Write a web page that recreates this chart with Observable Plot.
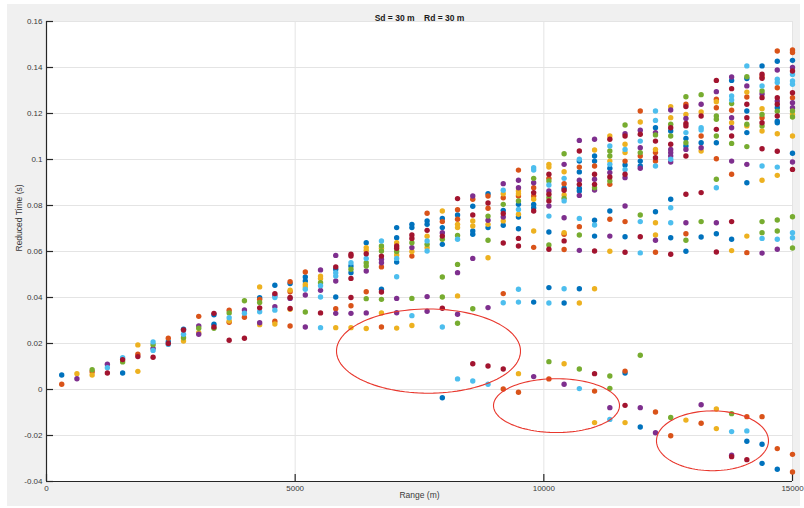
<!DOCTYPE html>
<html>
<head>
<meta charset="utf-8">
<script src="https://cdn.jsdelivr.net/npm/d3@7"></script>
<script src="https://cdn.jsdelivr.net/npm/@observablehq/plot@0.6"></script>
<style>
  html, body { margin: 0; padding: 0; background: #ffffff; }
  #panel { position: absolute; left: 7px; top: 4px; width: 793px; height: 502px; background: #f0f0f0; }
  #chart { position: absolute; left: 0; top: 0; }
</style>
</head>
<body>
<div id="panel"></div>
<div id="chart"></div>
<script>
// Reduced travel time of each arrival versus source–receiver range.
// Each row: [range (m), reduced times (s) ...] for one colour group.
const blue = [
  [306, .0063], [1531, .0072], [2449, .0208], [2755, .0262], [3367, .0325, .0284],
  [4286, .0399], [4592, .0453], [4898, .0461], [5204, .0489, .0472], [5816, .0523, .0402],
  [6122, .0537, .0508], [6429, .0638], [6735, .0436], [7041, .0704, .066, .0554],
  [7347, .0718, .0704], [7653, .0733, .0718], [7959, .0744, .0704, .0631, -.0036],
  [8265, .0759], [8571, .0797, .0689, .0675], [8878, .0851, .0704], [9184, .0779, .0714],
  [9490, .0805, .075, .0699], [9796, .0805, .079, .038], [10102, .0685, .0443],
  [10408, .0875, .0376], [10714, .0993, .0946, .0875, .0863, .0438],
  [11020, .1015, .0993, .0736, .0667], [11327, .0962, .0776], [11633, .0976, .0664, .0072],
  [11939, .0993, .0972, -.0163], [12245, .1138, .0773], [12551, .1124, .0827, .066],
  [12857, .1091, .1059, .0601], [13163, .1073, .0663], [13469, .1073, .0677],
  [13776, .1344, .0653], [14082, .1352, .1211, .1117, .0899, -.0225],
  [14388, .1407, -.0238, -.0321], [14694, .1427, .1225, .1167, .116, -.0347],
  [15000, .1431, .1027]
];
const orange = [
  [306, .0023], [918, .0077], [1837, .0153], [2449, .0223], [3061, .0318],
  [3673, .0345, .0292], [3980, .0314], [4286, .0392], [4592, .0297], [4898, .0469, .0425, .0276],
  [5204, .0511], [5816, .0351], [6122, .0364], [6429, .0425], [6735, .0533, .0272],
  [7347, .058], [7653, .0766], [7959, .073], [8265, .0782, .074], [8571, .0827],
  [8878, .0841, .0788], [9184, .0834, .0417, .0002], [9490, .0954, .0841, -.0012],
  [9796, .0877, .0841, .0618], [10102, .0918, .0046], [10408, .0895, .0675, .0609],
  [10714, .0967, .0708], [11020, .0972, -.0007], [11327, .0892, .074], [11633, .0993, .073, .008],
  [11939, .1211, .1015], [12245, .103, .0993, .0597, -.0098], [12551, -.0201],
  [12857, .124, .0677], [13163, .1102, -.0147], [13469, .1262, .1225, .1003],
  [13776, .1214, .0936], [14082, .1272, .0595, -.0118], [14388, .136, .1182, -.0118],
  [14694, .1472, .1312, -.0257], [15000, .1476, .1465, .1269, -.0282, -.0359]
];
const yellow = [
  [612, .0069], [918, .0063], [1837, .0194, .0079], [2755, .0211], [3061, .0247],
  [3673, .0298], [4286, .0446, .0282], [4592, .0285], [4898, .0432, .0349], [5204, .0457, .0446],
  [5510, .0493, .0483], [5816, .0269], [6122, .0269], [6429, .0617, .0605, .0265],
  [6735, .0614, .0333], [7041, .0638, .0585, .0267], [7347, .06, .0278], [7653, .0666, .0617],
  [7959, .0776], [8265, .0718, .0704, .0407], [8571, .0733, .0711], [8878, .0718, .0573],
  [9184, .0851, .0733], [9490, .0863, .0851, .0762, .0069], [9796, .0827, .0689],
  [10102, .0979, .0967], [10408, .0947, .0846, .0682, .0112], [10714, .0376],
  [11020, .1041, .0438, -.0144], [11327, .1102, .0993, .0601], [11633, .1066, .103, -.0144],
  [11939, .1163], [12245, .1044, .0725, .0672], [12551, .123, .1182], [12857, .1196, -.0133],
  [13163, .1207, .1037], [13469, .1251, -.0085, -.017], [13776, .116, .0604],
  [14082, .1293, .1146, .0667], [14388, .1221, .1124, .091], [14694, .1112, .0931],
  [15000, .1196, .1102]
];
const purple = [
  [612, .0047], [1224, .011], [2143, .0179], [3061, .0276, .024], [3980, .0346], [4286, .029],
  [4592, .0409, .036], [4898, .0396], [5204, .0411, .0272], [5510, .052, .0431],
  [5816, .0583, .0472, .0331], [6122, .0331], [6429, .0515, .0333], [6735, .0566, .0551],
  [7041, .0396, .0334], [7347, .0617], [7653, .0404, .034], [7959, .0682], [8265, .0508, .0327],
  [8571, .0841, .057], [8878, .0736, .0356], [9184, .0895, .075], [9490, .091, .0877],
  [9796, .0899, .0056], [10102, .0863, .0798], [10408, .0979, .0747, .0023],
  [10714, .1083, .091, .0844, .0605], [11020, .1088, .0914, .0867], [11327, .0943, .0667, -.0079],
  [11633, .1112, .0921, .0798], [11939, .1127, .1051, .0962, -.0079], [12245, .1117, .0649, -.0188],
  [12551, .1215, .1044, .103, .1015, .0989], [12857, .1178, .1044, .0725], [13163, .124, .1051, -.0066],
  [13469, .1295, .0725], [13776, .1359, .1182, .1138, .0993, -.0286], [14082, .132, .0979],
  [14388, .1285, .0593], [14694, .1389, .1254, .061], [15000, .14, .1247, .1225, .0989]
];
const green = [
  [918, .0086], [1531, .012], [2143, .0195], [2755, .0225], [3061, .0266], [3367, .0266],
  [3673, .0333], [3980, .0386], [4286, .0378], [5204, .0337], [5510, .0464], [6122, .0523],
  [6429, .0551, .0537, .0395], [6735, .0624, .0602, .0392], [7041, .06], [7347, .0638, .0396],
  [7653, .0631], [7959, .0653, .0489, .0402], [8265, .067, .0544, .0288], [8571, .0351],
  [8878, .0754, .0649], [9184, .0805], [9490, .082], [9796, .0918], [10102, .0907, .0834, .0628, .0121],
  [10408, .1025, .0831], [10714, .0672, .0089], [11020, .0877], [11327, .1037, .1015, .0907, .0059, .0005],
  [11633, .115], [11939, .103, .0759, .0149], [12245, .1107], [12551, .1153, .1102, -.0122],
  [12857, .1273, .1073, .0649], [13163, .1282, .073], [13469, .1189, .1175, .1102, .0914],
  [13776, .1243, .107, -.0105], [14082, .136, .1153, .1056], [14388, .1298, .1196, .1146, .073, .0682],
  [14694, .121, .0737, .0689], [15000, .1211, .1185, .0751, .0615]
];
const cyan = [
  [1224, .0095], [1531, .0138], [2143, .0207, .017], [2449, .0196], [2755, .024], [3673, .0312],
  [3980, .0332], [4286, .0338], [4592, .04, .0345], [5204, .0436], [5510, .0451, .0402, .0269],
  [5816, .0508, .0493], [6122, .0551], [6429, .057], [6735, .0646], [7041, .057, .049], [7347, .0321],
  [7653, .0646, .0602], [7959, .0272], [8265, .0653, .0046], [8571, .0037], [8878, .0023],
  [9184, .0866, .0377], [9490, .0783, .0436, .038], [9796, .0964, .0954], [10102, .0889, .0754, .0376],
  [10408, .0918, .082, .0438], [10714, .1001, .0744, .0004], [11020, .0715], [11327, .1059, .0979, -.013],
  [11633, .1044, .0957], [11939, .108, .073, .0594], [12245, .1211, .117, .0972], [12551, .1001, .079, .0725],
  [12857, .1117], [13163, .1138, .1128], [13469, .0877], [13776, .1276, .1259, -.0183], [14082, .1407, -.018],
  [14388, .132, .0972, .0657], [14694, .1349, .1335, .0967, .0653], [15000, .137, .1341, .1327, .0682, .066]
];
const maroon = [
  [1224, .0072], [1531, .013], [1837, .0143], [2143, .014], [2449, .02], [2755, .0259],
  [3367, .0331, .0272], [3673, .0214], [3980, .0223], [4286, .0355], [4592, .0417], [4898, .04, .0352],
  [5510, .0333], [5816, .0533], [6122, .0588, .058, .0483, .04], [6429, .059], [6735, .058, .0424],
  [7041, .0624, .0614], [7347, .0672, .0657], [7653, .0692], [7959, .0667, .0353], [8265, .083],
  [8571, .0759, .0112], [8878, .0811, .0102], [9184, .0765, .0637, .0089], [9490, .0657, .0624],
  [9796, .0856, .0776], [10102, .0936, .0849, .082, .061], [10408, .0866, .0646], [10714, .1037, .0892],
  [11020, .0936, .0892, .0602, .0069], [11327, .1088, .0924], [11633, .1102, .0936, .0597, -.0069],
  [11939, .111, .0664], [12245, .108, .1008], [12551, .1138, .1066, .0588],
  [12857, .123, .1157, .1146, .1015, .0849], [13163, .1189, .0856], [13469, .1344, .1131, .0598],
  [13776, .1308, .1102, .073, -.0292], [14082, .124, .1182, -.0305],
  [14388, .1371, .1353, .1269, .116, .1047], [14694, .1269, .124, .1189, .1036], [15000, .1385, .129, .0957]
];

// Draw order and colours of the groups (later groups sit on top).
const groups = [
  {rows: blue, color: "#0072BD"},
  {rows: orange, color: "#D95319"},
  {rows: yellow, color: "#EDB120"},
  {rows: purple, color: "#7E2F8E"},
  {rows: green, color: "#77AC30"},
  {rows: cyan, color: "#4DBEEE"},
  {rows: maroon, color: "#A2142F"}
];

const xTicks = [0, 5000, 10000, 15000];
const yTicks = [-0.04, -0.02, 0, 0.02, 0.04, 0.06, 0.08, 0.1, 0.12, 0.14, 0.16];

// Circled regions: centre (range, time) and semi-axes in data units.
const highlights = [
  {range: 7681, time: 0.0167, rx: 1850, ry: 0.0183},
  {range: 10255, time: -0.0070, rx: 1267, ry: 0.0117},
  {range: 13391, time: -0.0223, rx: 1126, ry: 0.0130}
];

const titleText = "Sd = 30 m\u00a0\u00a0\u00a0\u00a0Rd = 30 m";
const xLabel = "Range (m)";
const yLabel = "Reduced Time (s)";

const W = 804, H = 508;
const M = {left: 46, right: 12, top: 21, bottom: 27};
const plotW = W - M.left - M.right;
const plotH = H - M.top - M.bottom;
const tickLen = 7;
const axisColor = "#262626";
const gridColor = "#e4e4e4";

const toPoints = rows => rows.flatMap(([range, ...times]) => times.map(time => ({range, time})));
const angles = d3.range(0, 361, 3).map(a => a * Math.PI / 180);

const chart = Plot.plot({
  width: W,
  height: H,
  marginLeft: M.left,
  marginRight: M.right,
  marginTop: M.top,
  marginBottom: M.bottom,
  style: {
    background: "transparent",
    fontFamily: "'Liberation Sans', Arial, Helvetica, sans-serif",
    fontSize: "8px",
    color: "#3a3a3a"
  },
  x: {domain: [0, 15000], ticks: xTicks, tickFormat: d => String(d), tickSize: 0, tickPadding: 4, label: null},
  y: {domain: [-0.04, 0.16], ticks: yTicks, tickFormat: d => String(+d.toFixed(2)), tickSize: 0, tickPadding: 4, label: null},
  marks: [
    Plot.frame({fill: "white", stroke: null}),
    Plot.ruleX(xTicks, {stroke: gridColor, strokeWidth: 1}),
    Plot.ruleY(yTicks, {stroke: gridColor, strokeWidth: 1}),
    Plot.ruleX([0], {stroke: axisColor, strokeWidth: 1.2}),
    Plot.ruleY([-0.04], {stroke: axisColor, strokeWidth: 1.2}),
    Plot.tickX(xTicks, {x: d => d, insetTop: plotH - tickLen, stroke: axisColor, strokeWidth: 1.2}),
    Plot.tickY(yTicks, {y: d => d, insetRight: plotW - tickLen, stroke: axisColor, strokeWidth: 1.2}),
    ...groups.map(g => Plot.dot(toPoints(g.rows), {x: "range", y: "time", r: 2.7, fill: g.color, stroke: null})),
    ...highlights.map(h => Plot.line(angles, {
      x: a => h.range + h.rx * Math.cos(a),
      y: a => h.time + h.ry * Math.sin(a),
      stroke: "#e8372d",
      strokeWidth: 1.1,
      curve: "linear"
    })),
    Plot.text([titleText], {text: d => d, frameAnchor: "top", dy: -7, fontWeight: "bold", fontSize: 8.5, fill: "#1a1a1a"}),
    Plot.text([xLabel], {text: d => d, frameAnchor: "bottom", dy: 16, fontSize: 8.5, fill: "#3a3a3a"}),
    Plot.text([yLabel], {text: d => d, frameAnchor: "left", dx: -27, rotate: -90, fontSize: 8.5, fill: "#3a3a3a"})
  ]
});

document.getElementById("chart").appendChild(chart);
</script>
</body>
</html>
